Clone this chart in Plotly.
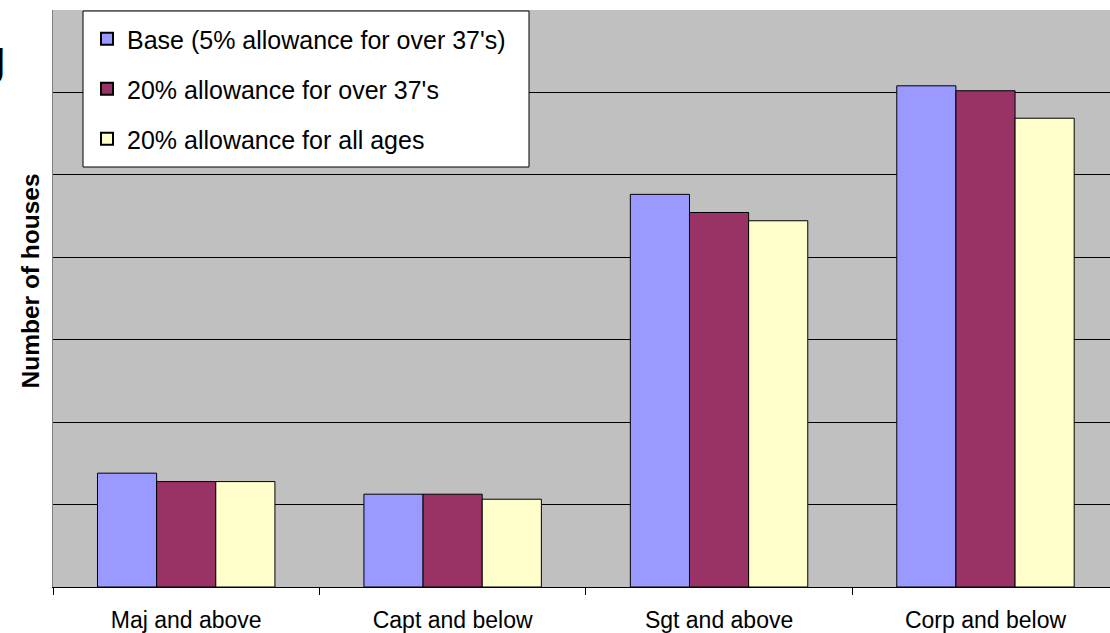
import plotly.graph_objects as go

categories = ["Maj and above", "Capt and below", "Sgt and above", "Corp and below"]
series_names = ["Base (5% allowance for over 37's)",
                "20% allowance for over 37's",
                "20% allowance for all ages"]
base_vals = [138, 112.5, 476, 607.6]
over37_vals = [127.8, 112.5, 454, 601.6]
allages_vals = [127.8, 106.4, 444, 568.3]
colors = ["#9999FF", "#993366", "#FFFFCC"]

W, H = 1110, 633
ML, MR, MT, MB = 53, 0, 10, 46
pw = W - ML - MR
ph = H - MT - MB


def px_x(p):
    return (p - ML) / pw


def px_y(p):
    return 1 - (p - MT) / ph


fig = go.Figure()
for i, (name, vals) in enumerate(zip(series_names, [base_vals, over37_vals, allages_vals])):
    fig.add_trace(go.Bar(
        x=categories, y=vals, name=name, legendgroup=f"g{i}",
        marker=dict(color=colors[i], line=dict(color="black", width=1)),
    ))

fig.update_layout(
    width=W, height=H,
    margin=dict(l=ML, r=MR, t=MT, b=MB, pad=0),
    paper_bgcolor="white", plot_bgcolor="#C0C0C0",
    barmode="group", bargap=0.334, bargroupgap=0,
    font=dict(family="Liberation Sans, Arial", color="black"),
    showlegend=True,
    legend=dict(
        x=px_x(87), y=px_y(16), xanchor="left", yanchor="top",
        bgcolor="rgba(0,0,0,0)", borderwidth=0,
        font=dict(size=25, family="Liberation Sans, Arial", color="black"),
        tracegroupgap=14.5, itemsizing="constant",
    ),
    shapes=[
        dict(type="rect", xref="paper", yref="paper", layer="above",
             x0=px_x(83), x1=px_x(529), y0=px_y(167), y1=px_y(11),
             fillcolor="white", line=dict(color="black", width=1)),
    ],
    xaxis=dict(
        type="category", categoryorder="array", categoryarray=categories,
        range=[-0.5, 3.5 - 8.7 / 266.5],
        tickson="boundaries", ticks="outside", ticklen=7, tickcolor="black",
        ticklabelstandoff=12,
        showline=True, linecolor="black", linewidth=1, showgrid=False,
        tickfont=dict(size=23, family="Liberation Sans, Arial", color="black"),
    ),
    yaxis=dict(
        range=[0, 699.5], dtick=100, showticklabels=False, ticks="",
        showgrid=True, gridcolor="black", gridwidth=1, zeroline=False,
        showline=True, linecolor="#808080", linewidth=1,
    ),
    annotations=[
        dict(text="<b>Number of houses</b>", textangle=-90,
             xref="paper", yref="paper", x=px_x(30), y=px_y(281.5),
             xanchor="center", yanchor="middle", showarrow=False,
             font=dict(size=24.5, family="Liberation Sans, Arial", color="black")),
        dict(text="g", xref="paper", yref="paper",
             x=px_x(8), y=px_y(58), xanchor="right", yanchor="middle",
             showarrow=False,
             font=dict(size=48, family="Liberation Sans, Arial", color="black")),
    ],
)

fig.write_html("out.html")
